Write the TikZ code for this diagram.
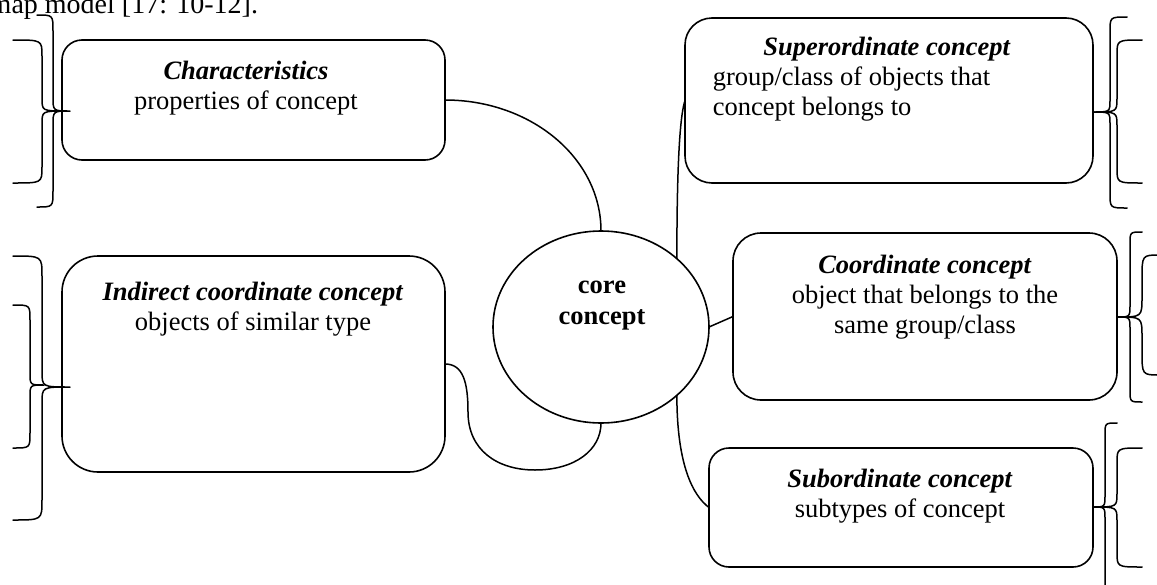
\documentclass[tikz,border=0pt]{standalone}
\usepackage{fontspec}
\setmainfont{Liberation Serif}
\usetikzlibrary{shapes.geometric}

% curly brace: ends at x=#1 (y=#2 top, y=#3 bottom), spine at x=#4,
% tip at (#5,#6), end radius #7, tip radius #8
\newcommand\drawbrace[8]{%
  \draw (#1,#2) .. controls (#4,#2) .. (#4,{#2+#7}) -- (#4,{#6-#8})
        .. controls (#4,#6) .. (#5,#6)
        .. controls (#4,#6) .. (#4,{#6+#8}) -- (#4,{#3-#7})
        .. controls (#4,#3) .. (#1,#3);}

\begin{document}
\begin{tikzpicture}[x=1pt,y=-1pt,
  line width=1.5pt, line cap=round, line join=round,
  box/.style={draw, line width=1.6pt, inner sep=0pt, outer sep=0pt},
  txt/.style={inner sep=0pt, anchor=north, align=center,
              font=\fontsize{26.5}{30}\selectfont}]

\useasboundingbox (0,0) rectangle (1157,584);

% running text above the figure
\node[anchor=base west, inner sep=0pt, font=\fontsize{28}{30}\selectfont]
  (caption) at (-11,13) {map model [17: 10-12].};

% concept boxes
\node[box, rounded corners=20pt, minimum width=383pt, minimum height=120pt]
  (char) at (253.5,100) {};
\node[box, rounded corners=36pt, minimum width=383pt, minimum height=216pt]
  (indir) at (253.5,364) {};
\node[box, rounded corners=27pt, minimum width=408pt, minimum height=165pt]
  (super) at (889,100.5) {};
\node[box, rounded corners=28pt, minimum width=384pt, minimum height=167pt]
  (coord) at (925,316.5) {};
\node[box, rounded corners=20pt, minimum width=384pt, minimum height=119pt]
  (sub) at (901,507.5) {};
\node[box, ellipse, minimum width=216pt, minimum height=192pt]
  (core) at (601,327) {};

% box texts
\node[txt] (chartxt) at (246,58)
  {\strut\textbf{\textit{Characteristics}}\\properties of concept};
\node[txt] (indirtxt) at (253,279)
  {\strut\textbf{\textit{Indirect coordinate concept}}\\objects of similar type};
\node[txt] (supertitle) at (887,34)
  {\strut\textbf{\textit{Superordinate concept}}};
\node[txt, anchor=north west, align=left] (supertxt) at (712,64)
  {\strut group/class of objects that\\concept belongs to};
\node[txt] (coordtxt) at (925,252)
  {\strut\textbf{\textit{Coordinate concept}}\\object that belongs to the\\same group/class};
\node[txt] (subtxt) at (900,466)
  {\strut\textbf{\textit{Subordinate concept}}\\subtypes of concept};
\node[txt, font=\fontsize{26.5}{31}\selectfont\bfseries] (coretxt) at (602,271)
  {\strut core\\concept};

% connectors to the core concept
\draw (char.east) .. controls +(86,0) and +(0,-73) .. (core.north);
\draw (indir.east) .. controls +(18,0) and +(0,-30) .. (468,412)
      .. controls +(0,38) and +(-38,0) .. (535,470)
      .. controls +(40,0) and +(0,27) .. (core.south);
\draw (core.42) .. controls +(0,-110) and +(-4,12) .. (super.west);
\draw (core.east) -- (coord.west);
\draw (core.-42) .. controls +(0,70) and +(-16,-12) .. (sub.west);

% braces on the left
\drawbrace{37}{15}{207}{53}{70}{111}{16}{14}
\drawbrace{13}{40}{183}{42}{66}{111}{16}{13}
\drawbrace{13}{256}{520}{42}{70}{387}{20}{16}
\drawbrace{13}{305}{448}{30}{44}{385}{15}{12}

% braces on the right
\drawbrace{1127}{17}{208}{1110}{1093}{112}{15}{12}
\drawbrace{1142}{40}{183}{1117}{1093}{112}{15}{14}
\drawbrace{1142}{232}{402}{1130}{1117}{317}{12}{12}
\drawbrace{1160}{255}{375}{1142}{1117}{317}{24}{20}
\drawbrace{1117}{423}{600}{1105}{1093}{507}{12}{12}
\drawbrace{1142}{448}{567}{1117}{1093}{507}{15}{14}

\end{tikzpicture}
\end{document}
